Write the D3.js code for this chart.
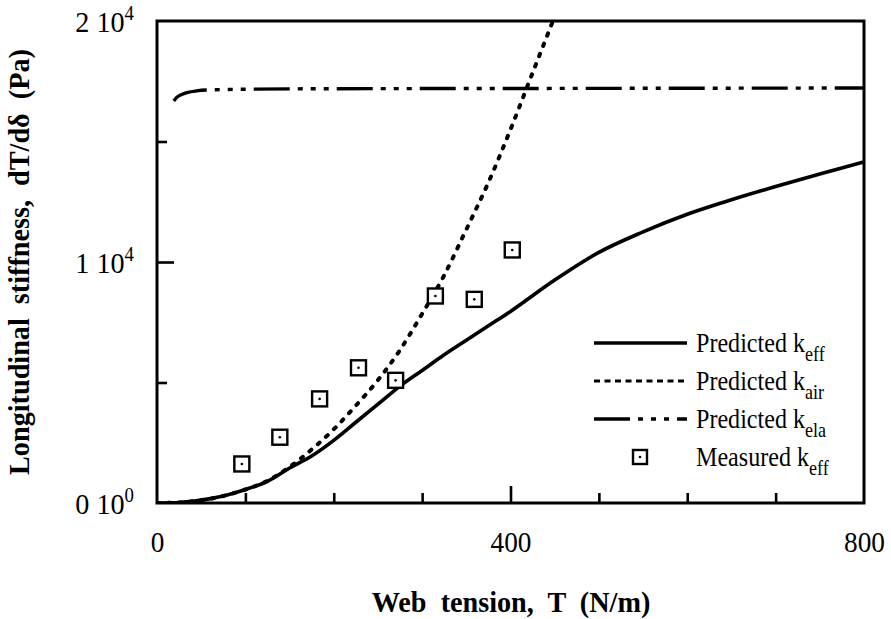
<!DOCTYPE html>
<html>
<head>
<meta charset="utf-8">
<script src="https://cdn.jsdelivr.net/npm/d3@7"></script>
<style>
  html, body { margin: 0; padding: 0; background: #fff; }
  svg { display: block; }
  text { font-family: "Liberation Serif", "Times New Roman", serif; fill: #000; white-space: pre; }
</style>
</head>
<body>
<svg id="chart" width="891" height="619"></svg>
<script>
// Web tension T (N/m) versus longitudinal stiffness (Pa)
const effT   = [0, 25, 50, 75, 100, 125, 150, 175, 200, 225, 250, 275, 300, 325, 350, 375, 400, 450, 500, 550, 600, 650, 700, 750, 800];
const effK   = [0, 20, 120, 290, 560, 900, 1450, 1950, 2600, 3350, 4100, 4850, 5500, 6150, 6750, 7350, 7950, 9250, 10400, 11250, 11980, 12580, 13130, 13650, 14150];

const airT   = [0, 25, 50, 75, 100, 125, 150, 175, 200, 225, 250, 275, 300, 325, 350, 375, 400, 425, 448];
const airK   = [0, 20, 120, 290, 560, 920, 1500, 2220, 3060, 4040, 5100, 6350, 7850, 9450, 11350, 13300, 15500, 17850, 20000];

const elaT   = [19, 22, 28, 35, 45, 60, 100, 200, 400, 600, 800];
const elaK   = [16680, 16820, 16950, 17040, 17100, 17140, 17170, 17190, 17200, 17210, 17220];

const measT  = [96, 139, 184, 228, 270, 315, 359, 402];
const measK  = [1620, 2730, 4320, 5610, 5090, 8590, 8450, 10500];

const xMajor = [0, 400, 800];
const xMinor = [100, 200, 300, 500, 600, 700];
const yMajor = [0, 10000, 20000];
const yMinor = [5000, 15000];
const yLabels = [["0 10", "0"], ["1 10", "4"], ["2 10", "4"]];

const legendItems = [
  { name: "Predicted k", sub: "eff", kind: "eff" },
  { name: "Predicted k", sub: "air", kind: "air" },
  { name: "Predicted k", sub: "ela", kind: "ela" },
  { name: "Measured k",  sub: "eff", kind: "meas" }
];

const svg = d3.select("#chart");
const L = 157, R = 864, T = 21, B = 503;
const SX = 0.94;   // horizontal squeeze of axis type
const SXL = 0.86;  // horizontal squeeze of legend type

const x = d3.scaleLinear().domain([0, 800]).range([L, R]);
const y = d3.scaleLinear().domain([0, 20000]).range([B, T]);

const styles = {
  eff: { width: 3.6, dash: null, cap: "round" },
  air: { width: 4, dash: "2.5,8.5", cap: "round" },
  ela: { width: 3.4, dash: "36,8,5,8,5,8,5,8", cap: "butt" }
};

// plot clip
svg.append("defs").append("clipPath").attr("id", "plot")
  .append("rect").attr("x", L).attr("y", T - 2).attr("width", R - L).attr("height", B - T + 2);

// ticks (inward) via d3 axes
function tickAxis(axisFn, scale, values, size, tr) {
  const g = svg.append("g").attr("transform", tr)
    .call(axisFn(scale).tickValues(values).tickSizeInner(-size).tickSizeOuter(0).tickFormat(""));
  g.select(".domain").remove();
  g.selectAll(".tick line").attr("stroke", "#000").attr("stroke-width", 2.6);
  return g;
}
tickAxis(d3.axisBottom, x, xMinor, 10, `translate(0,${B})`);
tickAxis(d3.axisBottom, x, [400], 17, `translate(0,${B})`);
tickAxis(d3.axisLeft, y, yMinor, 10, `translate(${L},0)`);
tickAxis(d3.axisLeft, y, [10000], 17, `translate(${L},0)`);

// x tick labels
const xl = svg.append("g").attr("transform", `translate(0,${B})`)
  .call(d3.axisBottom(x).tickValues(xMajor).tickSize(0).tickPadding(0).tickFormat(d3.format("d")));
xl.select(".domain").remove();
xl.selectAll(".tick text")
  .attr("y", 49).attr("dy", null)
  .attr("font-size", 29)
  .attr("font-family", "Liberation Serif, serif")
  .attr("transform", `scale(${SX},1)`);

// y tick labels with powers of ten
yMajor.forEach((v, i) => {
  const t = svg.append("text")
    .attr("transform", `translate(134,${y(v) + 11}) scale(${SX},1)`)
    .attr("text-anchor", "end")
    .attr("font-size", 30);
  t.append("tspan").text(yLabels[i][0]);
  t.append("tspan").attr("font-size", 20).attr("dy", -12).text(yLabels[i][1]);
});

// curves
const line = d3.line().x(d => x(d[0])).y(d => y(d[1])).curve(d3.curveMonotoneX);
function drawCurve(ts, ks, kind) {
  const s = styles[kind];
  svg.append("path")
    .datum(ts.map((t, i) => [t, ks[i]]))
    .attr("clip-path", "url(#plot)")
    .attr("d", line)
    .attr("fill", "none")
    .attr("stroke", "#000")
    .attr("stroke-width", s.width)
    .attr("stroke-linecap", s.cap)
    .attr("stroke-dasharray", s.dash);
}
drawCurve(effT, effK, "eff");
drawCurve(airT, airK, "air");
drawCurve(elaT, elaK, "ela");

// measured points
function marker(g, cx, cy, size) {
  g.append("rect")
    .attr("x", cx - size / 2).attr("y", cy - size / 2)
    .attr("width", size).attr("height", size)
    .attr("fill", "#fff").attr("stroke", "#000").attr("stroke-width", 2.4);
  g.append("circle").attr("cx", cx).attr("cy", cy).attr("r", 1.3).attr("fill", "#000");
}
const mg = svg.append("g");
measT.forEach((t, i) => marker(mg, x(t), y(measK[i]), 15));

// frame
svg.append("rect")
  .attr("x", L).attr("y", T).attr("width", R - L).attr("height", B - T)
  .attr("fill", "none").attr("stroke", "#000").attr("stroke-width", 3);

// legend
const lg = svg.append("g");
legendItems.forEach((it, i) => {
  const ly = 343 + i * 38;
  if (it.kind === "meas") {
    marker(lg, 640, ly, 14);
  } else {
    const s = styles[it.kind];
    lg.append("line")
      .attr("x1", 594).attr("x2", 687).attr("y1", ly).attr("y2", ly)
      .attr("stroke", "#000")
      .attr("stroke-width", it.kind === "air" ? 3 : s.width)
      .attr("stroke-linecap", "butt")
      .attr("stroke-dasharray", it.kind === "air" ? "6,4.5" : s.dash);
  }
  const t = lg.append("text")
    .attr("transform", `translate(696,${ly + 9}) scale(${SXL},1)`)
    .attr("font-size", 28);
  t.append("tspan").text(it.name);
  t.append("tspan").attr("font-size", 21).attr("dy", 9).text(it.sub);
});

// axis titles
svg.append("text")
  .attr("transform", `translate(511,612) scale(${SX},1)`)
  .attr("text-anchor", "middle")
  .attr("font-size", 30).attr("font-weight", "bold")
  .text("Web  tension,  T  (N/m)");

svg.append("text")
  .attr("transform", `translate(29,262) rotate(-90) scale(${SX},1)`)
  .attr("text-anchor", "middle")
  .attr("font-size", 30).attr("font-weight", "bold")
  .text("Longitudinal  stiffness,  dT/d\u03B4  (Pa)");
</script>
</body>
</html>
